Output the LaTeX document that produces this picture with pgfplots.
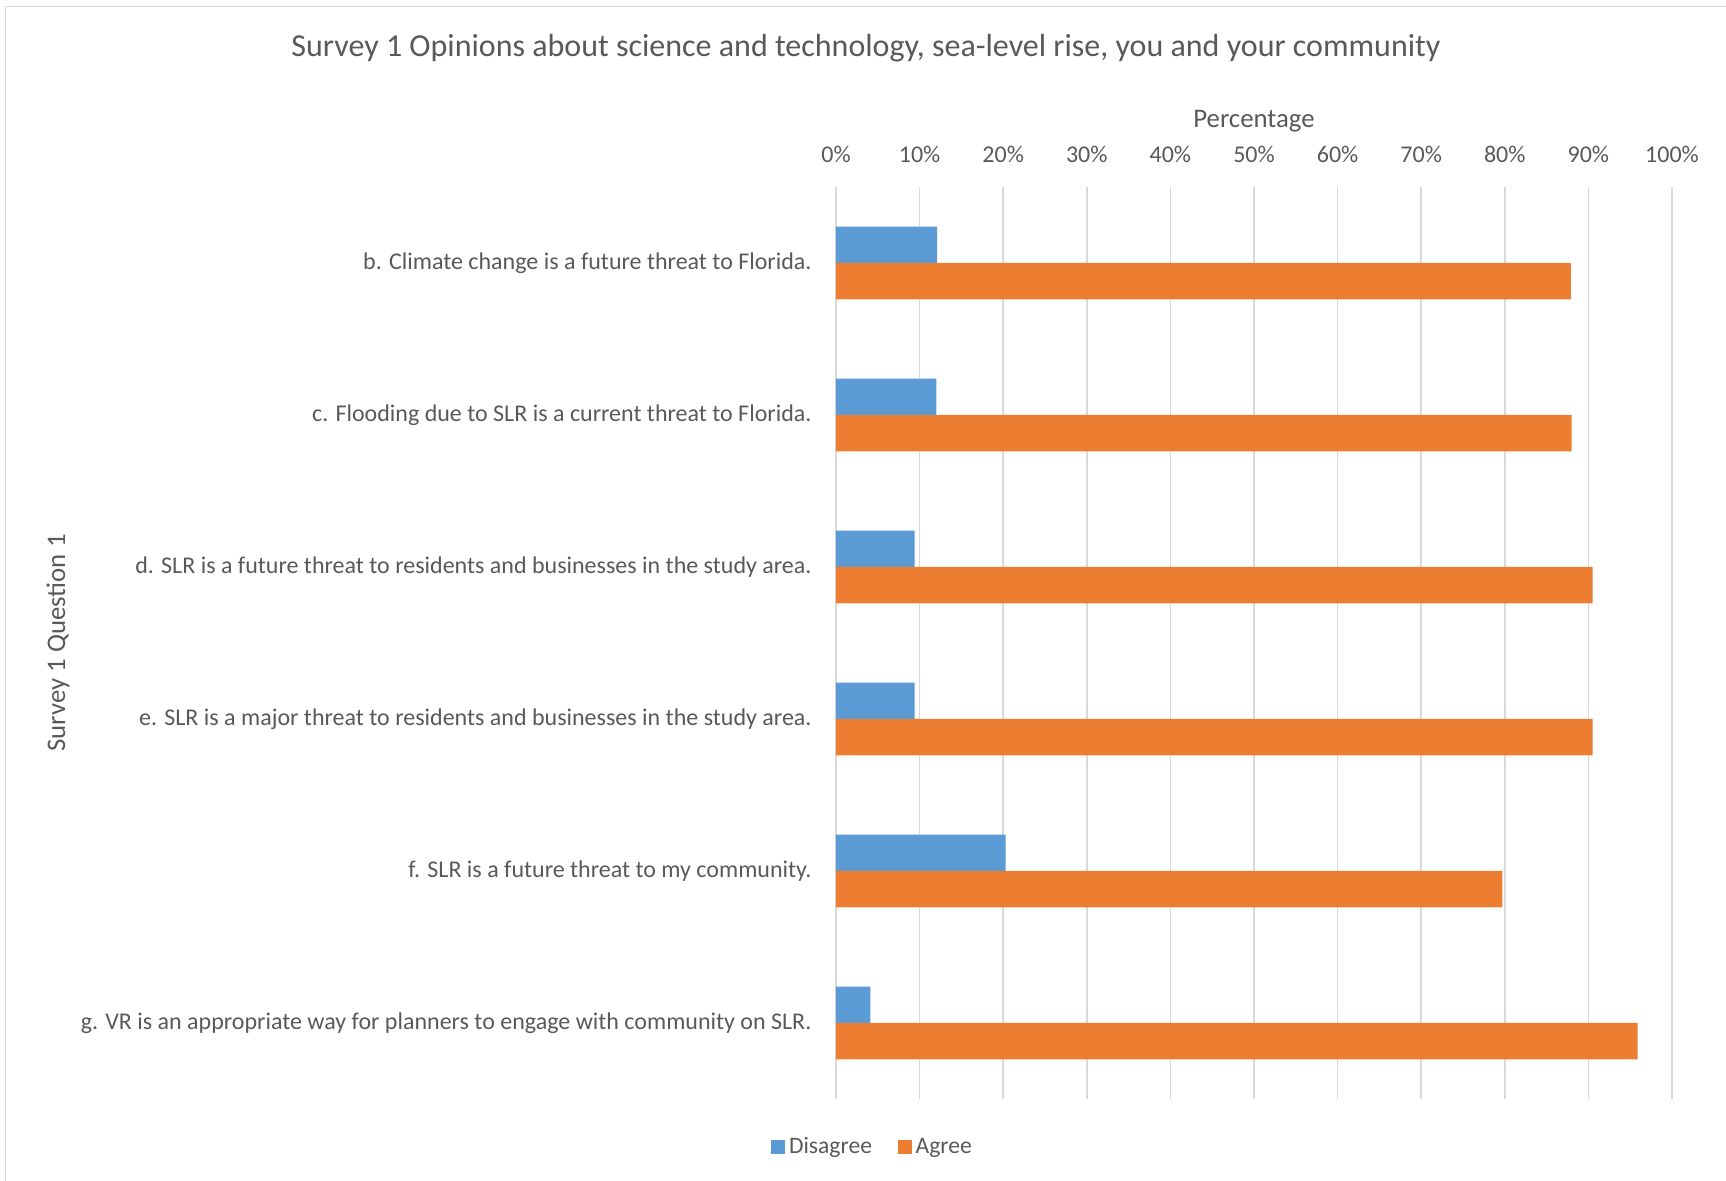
\documentclass[border=0pt]{standalone}
\usepackage{pgfplots}
\pgfplotsset{compat=1.18}
\usepackage{fontspec}
\setmainfont{Carlito}
\definecolor{cblue}{HTML}{5B9BD5}
\definecolor{corange}{HTML}{ED7D31}
\definecolor{ctext}{HTML}{595959}
\definecolor{cgrid}{HTML}{D9D9D9}
\begin{document}
\begin{tikzpicture}
\useasboundingbox (0,0) rectangle (863pt,590.5pt);
\draw[cgrid, line width=0.8pt] (2.8pt,0) -- (2.8pt,587.3pt) -- (863pt,587.3pt);
\node[ctext, font=\fontsize{16}{19}\selectfont] at (433pt,566.5pt) {Survey 1 Opinions about science and technology, sea-level rise, you and your community};
\begin{axis}[
  at={(418pt,41pt)}, anchor=south west,
  width=418pt, height=456pt, scale only axis,
  xbar, bar width=0.24,
  xmin=0, xmax=100, ymin=-0.5, ymax=5.5, y dir=reverse,
  axis x line*=top, axis y line*=left, axis line style={draw=none},
  major tick length=0pt,
  xtick={0,10,...,100},
  xticklabel={\pgfmathprintnumber{\tick}\%},
  /pgf/number format/assume math mode=true,
  xmajorgrids, grid style={cgrid, line width=0.75pt},
  ytick={0,1,2,3,4,5},
  yticklabels={b. Climate change is a future threat to Florida.,
    c. Flooding due to SLR is a current threat to Florida.,
    d. SLR is a future threat to residents and businesses in the study area.,
    e. SLR is a major threat to residents and businesses in the study area.,
    f. SLR is a future threat to my community.,
    g. VR is an appropriate way for planners to engage with community on SLR.},
  every tick label/.append style={text=ctext, font=\fontsize{12}{14.4}\selectfont},
  xticklabel style={anchor=south, inner sep=0pt, yshift=11.8pt},
  yticklabel style={anchor=east, inner sep=0pt, xshift=-12pt},
  xlabel={Percentage},
  xlabel style={at={(axis description cs:0.5,1)}, anchor=center, yshift=33pt, text=ctext, font=\fontsize{13.4}{16}\selectfont},
  ylabel={Survey 1 Question 1},
  ylabel style={at={(axis description cs:-0.9306,0.5)}, anchor=center, rotate=0, text=ctext, font=\fontsize{13.4}{16}\selectfont},
  legend style={at={(axis description cs:0.045,-0.0526)}, anchor=center, draw=none, fill=none,
    legend columns=2, font=\fontsize{11.8}{14}\selectfont, text=ctext,
    /tikz/every even column/.append style={column sep=11pt}},
  legend image code/.code={\fill[#1] (0pt,-3.4pt) rectangle (6.8pt,3.4pt);},
]
\addplot[fill=cblue, draw=none, bar shift=-0.12] coordinates {(12.1,0) (12.0,1) (9.4,2) (9.4,3) (20.3,4) (4.1,5)};
\addlegendentry{Disagree}
\addplot[fill=corange, draw=none, bar shift=0.12] coordinates {(87.9,0) (88.0,1) (90.5,2) (90.5,3) (79.7,4) (95.9,5)};
\addlegendentry{Agree}
\end{axis}
\end{tikzpicture}
\end{document}
